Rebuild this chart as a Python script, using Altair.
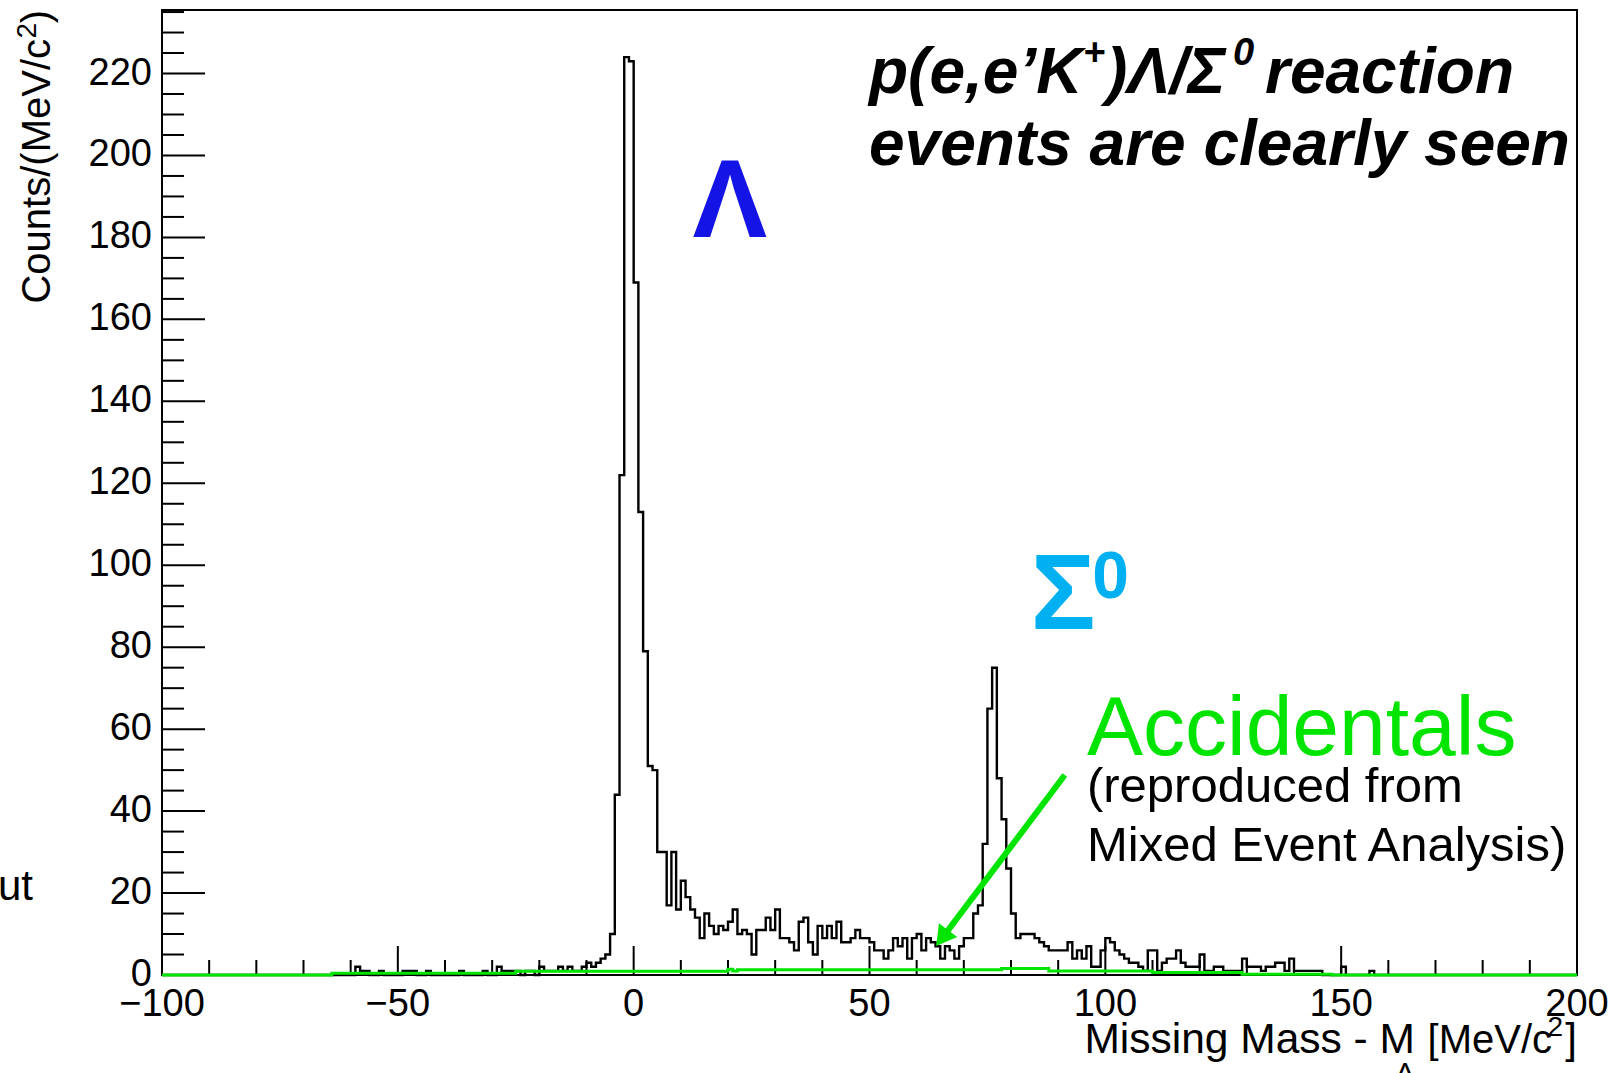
import altair as alt
import pandas as pd

# ---- histogram of missing mass, 1 MeV/c^2 bins from -100 to 200 ----
BIN_LO = -100
BIN_W = 1
counts = [
    0, 0, 0, 0, 0, 0, 0, 0, 0, 0,            # -100 .. -91
    0, 0, 0, 0, 0, 0, 0, 0, 0, 0,            # -90 .. -81
    0, 0, 0, 0, 0, 0, 0, 0, 0, 0,            # -80 .. -71
    0, 0, 0, 0, 0, 0, 0, 0, 0, 0,            # -70 .. -61
    0, 2, 1, 1, 0, 0, 1, 0, 0, 0,            # -60 .. -51
    0, 1, 1, 1, 0, 0, 1, 0, 0, 0,            # -50 .. -41
    0, 0, 0, 1, 0, 0, 0, 0, 1, 0,            # -40 .. -31
    0, 2, 1, 1, 1, 1, 0, 1, 1, 0,            # -30 .. -21
    2, 1, 1, 1, 2, 1, 2, 1, 1, 2,            # -20 .. -11
    3, 2, 3, 4, 5, 10, 44, 122, 224, 223,    # -10 .. -1
    169, 113, 79, 51, 50, 30, 30, 17, 30, 16,  # 0 .. 9
    23, 19, 16, 14, 9, 15, 12, 10, 12, 11,   # 10 .. 19
    13, 16, 10, 11, 10, 5, 11, 11, 14, 11,   # 20 .. 29
    16, 9, 9, 8, 6, 13, 14, 8, 5, 12,        # 30 .. 39
    9, 12, 9, 13, 8, 8, 9, 11, 9, 9,         # 40 .. 49
    8, 6, 6, 4, 6, 9, 7, 9, 4, 9,            # 50 .. 59
    10, 6, 9, 8, 7, 4, 7, 6, 4, 7,           # 60 .. 69
    9, 9, 15, 17, 32, 65, 75, 48, 38, 26,    # 70 .. 79
    15, 9, 10, 10, 10, 9, 8, 7, 6, 6,        # 80 .. 89
    6, 6, 8, 4, 6, 4, 7, 2, 2, 6,            # 90 .. 99
    9, 8, 6, 5, 4, 3, 3, 2, 1, 6,            # 100 .. 109
    6, 1, 3, 4, 4, 6, 3, 2, 2, 2,            # 110 .. 119
    5, 1, 1, 2, 2, 1, 1, 1, 1, 4,            # 120 .. 129
    2, 2, 2, 1, 2, 2, 3, 3, 1, 4,            # 130 .. 139
    1, 1, 1, 1, 1, 1, 0, 0, 0, 0,            # 140 .. 149
    2, 0, 0, 0, 0, 0, 1, 0, 0, 0,            # 150 .. 159
    0, 0, 0, 0, 0, 0, 0, 0, 0, 0,            # 160 .. 169
    0, 0, 0, 0, 0, 0, 0, 0, 0, 0,            # 170 .. 179
    0, 0, 0, 0, 0, 0, 0, 0, 0, 0,            # 180 .. 189
    0, 0, 0, 0, 0, 0, 0, 0, 0, 0,            # 190 .. 199
]

# accidental background (mixed-event estimate), flat runs between edges
acc_edges = [-100, -64, -25, 20, 21, 22, 78, 88, 110, 129, 148, 200]
acc_levels = [0, 0.4, 0.9, 1.4, 1.0, 1.3, 1.6, 1.0, 0.6, 0.2, 0]

# axis ticks
x_major = [-100, -50, 0, 50, 100, 150, 200]
x_minor = [v for v in range(-90, 200, 10) if v % 50 != 0]
y_major = list(range(0, 221, 20))
y_minor = [v for v in range(5, 236, 5) if v % 20 != 0]

X_DOMAIN = [-100, 200]
Y_DOMAIN = [0, 235.5]
W, H = 1415, 965
FONT = "Liberation Sans"
GREEN = "#00E400"

xs = alt.Scale(domain=X_DOMAIN, nice=False, zero=False)
ys = alt.Scale(domain=Y_DOMAIN, nice=False, zero=False)

edges = [BIN_LO + i * BIN_W for i in range(len(counts))] + [BIN_LO + len(counts) * BIN_W]
hist_df = pd.DataFrame({"m": edges, "n": counts + [counts[-1]]})
acc_df = pd.DataFrame({"m": acc_edges, "n": acc_levels + [acc_levels[-1]]})

hist = alt.Chart(hist_df).mark_line(
    interpolate="step-after", color="black", strokeWidth=2.4
).encode(
    x=alt.X("m:Q", scale=xs, axis=None),
    y=alt.Y("n:Q", scale=ys, axis=None),
)

acc = alt.Chart(acc_df).mark_line(
    interpolate="step-after", color=GREEN, strokeWidth=3
).encode(
    x=alt.X("m:Q", scale=xs, axis=None),
    y=alt.Y("n:Q", scale=ys, axis=None),
)


def fmt(v):
    return str(v).replace("-", "\u2212")


# inward ticks drawn as rules placed through the scales
def xticks(vals, length):
    return alt.Chart(pd.DataFrame({"v": vals})).mark_rule(color="black", strokeWidth=2).encode(
        x=alt.X("v:Q", scale=xs, axis=None), y=alt.value(H), y2=alt.value(H - length))


def yticks(vals, length):
    return alt.Chart(pd.DataFrame({"v": vals})).mark_rule(color="black", strokeWidth=2).encode(
        y=alt.Y("v:Q", scale=ys, axis=None), x=alt.value(0), x2=alt.value(length))


ticks = [xticks(x_major, 29), xticks(x_minor, 15), yticks(y_major, 43), yticks(y_minor, 22)]

# tick labels
xlab = alt.Chart(pd.DataFrame({"v": x_major, "t": [fmt(v) for v in x_major]})).mark_text(
    align="center", baseline="top", fontSize=38, font=FONT, color="black"
).encode(x=alt.X("v:Q", scale=xs, axis=None), y=alt.value(H + 11), text="t:N")
ylab = alt.Chart(pd.DataFrame({"v": y_major, "t": [fmt(v) for v in y_major]})).mark_text(
    align="right", baseline="middle", fontSize=38, font=FONT, color="black"
).encode(y=alt.Y("v:Q", scale=ys, axis=None), x=alt.value(-10), text="t:N")


def label(text, m, n, size, color="black", align="left", weight="normal", style="normal",
          font=FONT):
    return alt.Chart(pd.DataFrame({"m": [m], "n": [n], "t": [text]})).mark_text(
        align=align, baseline="alphabetic", fontSize=size, color=color,
        fontWeight=weight, fontStyle=style, font=font
    ).encode(x=alt.X("m:Q", scale=xs, axis=None), y=alt.Y("n:Q", scale=ys, axis=None),
             text="t:N")


def px_text(text, x, y, size, align="left", baseline="alphabetic", angle=0, color="black",
            weight="normal", style="normal"):
    return alt.Chart(pd.DataFrame({"t": [text]})).mark_text(
        align=align, baseline=baseline, fontSize=size, angle=angle, color=color, font=FONT,
        fontWeight=weight, fontStyle=style
    ).encode(x=alt.value(x), y=alt.value(y), text="t:N")


# headline, first line set piece by piece so the superscripts sit cleanly
HX, HY, HS, SUP = 707, 83, 64, 38
headline = [
    px_text("p(e,e’K", HX, HY, HS, weight="bold", style="italic"),
    px_text("+", HX + 214, HY - 28, SUP, weight="bold", style="italic"),
    px_text(")Λ/Σ", HX + 237, HY, HS, weight="bold", style="italic"),
    px_text("0", HX + 364, HY - 28, SUP, weight="bold", style="italic"),
    px_text("reaction", HX + 396, HY, HS, weight="bold", style="italic"),
]

notes = [
    label("Λ", 20.4, 180.1, 112, color="#1414E6", align="center", weight="bold"),
    label("Σ", 84.2, 84.4, 108, color="#00B0F0", weight="bold"),
    label("0", 97.2, 92.0, 66, color="#00B0F0", weight="bold"),
    label("events are clearly seen", 49.9, 197.7, 64, weight="bold", style="italic"),
    label("Accidentals", 96.1, 53.6, 84, color=GREEN),
    label("(reproduced from", 96.1, 42.3, 49),
    label("Mixed Event Analysis)", 96.1, 27.8, 49),
]

# green arrow pointing at the accidental spectrum
arrow_df = pd.DataFrame({"m": [91.4], "n": [48.8], "m2": [65.4], "n2": [9.0]})
arrow_line = alt.Chart(arrow_df).mark_rule(color=GREEN, strokeWidth=6).encode(
    x=alt.X("m:Q", scale=xs, axis=None), y=alt.Y("n:Q", scale=ys, axis=None),
    x2="m2:Q", y2="n2:Q")
arrow_head = alt.Chart(arrow_df).mark_point(
    shape="triangle-up", filled=True, color=GREEN, size=520, angle=217, opacity=1
).encode(x=alt.X("m2:Q", scale=xs, axis=None), y=alt.Y("n2:Q", scale=ys, axis=None))

# axis titles with sub/superscripts
titles = [
    px_text("]", W, 1043, 42, align="right"),
    px_text("2", W - 14, 1026, 28, align="right"),
    px_text("[MeV/c", W - 25, 1043, 40, align="right"),
    px_text("Missing Mass - M", W - 162, 1043, 42.5, align="right"),
    px_text("Λ", W - 172, 1049, 30, align="center", baseline="top"),
    px_text(")", -112, 0, 40, align="right", angle=270),
    px_text("2", -126, 13, 28, align="right", angle=270),
    px_text("Counts/(MeV/c", -112, 29, 40, align="right", angle=270),
    px_text("ut", -129, 890, 42, align="right"),
]

chart = alt.layer(
    hist, *ticks, acc, arrow_line, arrow_head, xlab, ylab, *headline, *notes, *titles
).properties(
    width=W, height=H,
    padding={"left": 162, "top": 10, "right": 39, "bottom": 98},
    autosize=alt.AutoSizeParams(type="none"),
    background="white",
).configure_view(stroke="black", strokeWidth=2)

chart.save("out.html", embed_options={"renderer": "svg", "actions": False})
